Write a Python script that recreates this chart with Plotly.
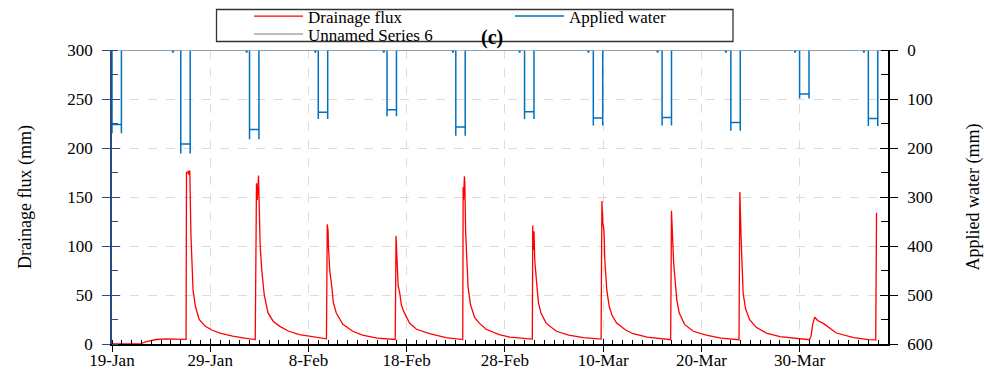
import plotly.graph_objects as go
import pandas as pd

# ---------------- data ----------------
flux_time = [
    "2019-01-19 00:00", "2019-01-21 20:00", "2019-01-22 12:00", "2019-01-23 12:00", "2019-01-24 12:00", "2019-01-26 13:00",
    "2019-01-26 14:00", "2019-01-26 18:00", "2019-01-26 19:00", "2019-01-26 22:00", "2019-01-27 01:00", "2019-01-27 03:00",
    "2019-01-27 06:00", "2019-01-27 12:00", "2019-01-27 21:00", "2019-01-28 12:00", "2019-01-29 05:00", "2019-01-30 00:00",
    "2019-01-31 07:00", "2019-02-01 12:00", "2019-02-02 14:00",
    "2019-02-02 17:00", "2019-02-02 19:00", "2019-02-02 22:00", "2019-02-03 00:00", "2019-02-03 02:00", "2019-02-03 06:00",
    "2019-02-03 12:00", "2019-02-03 21:00", "2019-02-04 10:00", "2019-02-05 02:00", "2019-02-06 00:00", "2019-02-07 02:00",
    "2019-02-08 12:00", "2019-02-09 20:00",
    "2019-02-09 22:00", "2019-02-10 00:00", "2019-02-10 01:00", "2019-02-10 04:00", "2019-02-10 08:00", "2019-02-10 13:00",
    "2019-02-10 20:00", "2019-02-11 12:00", "2019-02-12 12:00", "2019-02-13 12:00", "2019-02-15 00:00", "2019-02-16 20:00",
    "2019-02-16 22:00", "2019-02-17 00:00", "2019-02-17 03:00", "2019-02-17 07:00", "2019-02-17 11:00", "2019-02-17 17:00",
    "2019-02-18 07:00", "2019-02-19 00:00", "2019-02-20 08:00", "2019-02-22 00:00", "2019-02-23 17:00",
    "2019-02-23 18:00", "2019-02-23 19:00", "2019-02-23 21:00", "2019-02-23 22:00", "2019-02-24 00:00", "2019-02-24 03:00",
    "2019-02-24 06:00", "2019-02-24 12:00", "2019-02-24 22:00", "2019-02-25 10:00", "2019-02-26 02:00", "2019-02-27 10:00",
    "2019-02-28 12:00", "2019-03-02 19:00",
    "2019-03-02 20:00", "2019-03-02 21:00", "2019-03-02 23:00", "2019-03-03 01:00", "2019-03-03 05:00", "2019-03-03 10:00",
    "2019-03-03 16:00", "2019-03-04 05:00", "2019-03-05 06:00", "2019-03-06 12:00", "2019-03-08 00:00", "2019-03-09 19:00",
    "2019-03-09 21:00", "2019-03-09 23:00", "2019-03-10 02:00", "2019-03-10 04:00", "2019-03-10 09:00", "2019-03-10 12:00",
    "2019-03-10 15:00", "2019-03-10 22:00", "2019-03-11 09:00", "2019-03-12 06:00", "2019-03-13 01:00", "2019-03-14 12:00",
    "2019-03-16 21:00",
    "2019-03-16 23:00", "2019-03-17 01:00", "2019-03-17 04:00", "2019-03-17 07:00", "2019-03-17 12:00", "2019-03-17 18:00",
    "2019-03-18 07:00", "2019-03-19 04:00", "2019-03-20 12:00", "2019-03-22 00:00", "2019-03-23 20:00",
    "2019-03-23 22:00", "2019-03-23 23:00", "2019-03-24 01:00", "2019-03-24 03:00", "2019-03-24 06:00", "2019-03-24 12:00",
    "2019-03-24 22:00", "2019-03-25 14:00", "2019-03-26 15:00", "2019-03-28 00:00", "2019-03-31 00:00",
    "2019-03-31 04:00", "2019-03-31 08:00", "2019-03-31 13:00", "2019-03-31 20:00", "2019-04-01 10:00", "2019-04-02 18:00",
    "2019-04-04 12:00", "2019-04-06 00:00", "2019-04-06 18:00", "2019-04-06 20:00",
]
flux_value = [
    0, 0, 2.5, 4.6, 5.2, 4.8,
    175, 176, 173, 177, 110, 78,
    55, 38, 25, 18, 14, 11,
    8, 6, 4.5,
    164, 147, 172, 134, 100, 75,
    50, 32, 23, 18, 13, 9.5,
    7, 5.3,
    122, 115, 98, 75, 62, 42,
    31.6, 20, 13, 9, 6, 4.6,
    110.5, 80, 60, 52, 40, 33,
    21.4, 15, 10.5, 6.5, 4.5,
    160, 147, 171, 165, 115, 80,
    58, 40, 27, 21, 15, 9.5,
    7, 5,
    121, 96, 115, 85, 65, 42,
    31.6, 21, 13, 9, 6.5, 5,
    146, 125, 116, 86, 55, 45,
    38, 29, 21.4, 14.5, 10.5, 7,
    4.4,
    136, 110, 85, 69, 45, 31.6,
    20, 13, 9, 6, 4.4,
    155, 128, 110, 86, 52, 36,
    24.8, 17, 11.2, 7.5, 4.4,
    8, 20, 27.5, 24, 21, 11.2,
    6.5, 4.4, 4.2, 134,
]

irr_start = ["2019-01-19 00:00", "2019-01-26 00:00", "2019-02-02 00:00", "2019-02-09 00:00",
             "2019-02-16 00:00", "2019-02-23 00:00", "2019-03-02 00:00", "2019-03-09 00:00",
             "2019-03-16 00:00", "2019-03-23 00:00", "2019-03-30 00:00", "2019-04-06 00:00"]
irr_end = ["2019-01-19 23:00", "2019-01-26 23:00", "2019-02-02 23:00", "2019-02-09 23:00",
           "2019-02-16 23:00", "2019-02-23 23:00", "2019-03-02 23:00", "2019-03-09 23:00",
           "2019-03-16 23:00", "2019-03-23 23:00", "2019-03-30 23:00", "2019-04-06 23:00"]
irr_depth = [152, 192, 162, 127, 122, 157, 126, 139, 138, 148, 90, 140]
irr_peak = [170, 211, 182, 141, 135, 175, 141, 154, 154, 165, 99, 155]
# small dips just before events
dip_time = [None, "2019-01-25 05:00", "2019-02-01 17:00", "2019-02-08 17:00", "2019-02-15 16:00",
            "2019-02-22 17:00", "2019-03-01 12:00", "2019-03-08 12:00", "2019-03-15 13:00",
            "2019-03-22 12:00", "2019-03-29 13:00", "2019-04-05 13:00"]
dip_depth = [0, 5, 5, 5, 5, 5, 5, 5, 5, 5, 5, 5]

x_range = ["2019-01-19 00:00", "2019-04-08 00:00"]
series6_time = ["2019-01-19 00:00", "2019-04-08 00:00"]
series6_value = [0, 0]

left_ticks = [0, 50, 100, 150, 200, 250, 300]
right_ticks = [0, 100, 200, 300, 400, 500, 600]

# -------- build applied-water step line --------
irr_x, irr_y = [], []
for i in range(len(irr_start)):
    if dip_time[i] is not None:
        t = pd.Timestamp(dip_time[i])
        irr_x += [str(t - pd.Timedelta(hours=2)), str(t), str(t + pd.Timedelta(hours=2))]
        irr_y += [0, dip_depth[i], 0]
    irr_x += [irr_start[i], irr_start[i], irr_start[i], irr_end[i], irr_end[i], irr_end[i]]
    irr_y += [0, irr_peak[i], irr_depth[i], irr_depth[i], irr_peak[i], 0]
irr_x.append(x_range[1])
irr_y.append(0)

# -------- layout geometry --------
W, H = 984, 373
ML, MR, MT, MB = 112, 96, 50, 29
PW, PH = W - ML - MR, H - MT - MB


def px(xp):
    return (xp - ML) / PW


def py(yp):
    return (MT + PH - yp) / PH


FONT = "Liberation Serif"
NAVY = "#2b4a86"
TF = 17
LF = 17

fig = go.Figure()
fig.add_trace(go.Scatter(x=flux_time, y=flux_value, name="Drainage flux", mode="lines",
                         line=dict(color="#ff0000", width=1.3), legend="legend"))
fig.add_trace(go.Scatter(x=irr_x, y=irr_y, name="Applied water", mode="lines", yaxis="y2",
                         line=dict(color="#0070c0", width=1.5), legend="legend2"))
fig.add_trace(go.Scatter(x=series6_time, y=series6_value, name="Unnamed Series 6", mode="lines",
                         yaxis="y2", line=dict(color="#a6a6a6", width=1.5), legend="legend3"))
# helper traces so overlay tick axes are drawn
fig.add_trace(go.Scatter(x=[None], y=[None], xaxis="x2", yaxis="y", showlegend=False, hoverinfo="skip"))
fig.add_trace(go.Scatter(x=[None], y=[None], xaxis="x", yaxis="y3", showlegend=False, hoverinfo="skip"))
fig.add_trace(go.Scatter(x=[None], y=[None], xaxis="x", yaxis="y4", showlegend=False, hoverinfo="skip"))

DAY = 86400000
tickfont = dict(family=FONT, size=TF, color="black")

fig.update_layout(
    width=W, height=H,
    margin=dict(l=ML, r=MR, t=MT, b=MB, autoexpand=False),
    paper_bgcolor="white", plot_bgcolor="white",
    font=dict(family=FONT, size=TF, color="black"),
    showlegend=True,
    xaxis=dict(type="date", range=x_range, tickmode="linear", tick0="2019-01-19", dtick=10 * DAY,
               tickformat="%-d-%b", ticks="outside", ticklen=6, tickwidth=1.2, tickcolor="black",
               showline=True, linecolor="black", linewidth=1.5, zeroline=False,
               showgrid=True, gridcolor="#dcdcdc", griddash="dash", gridwidth=1,
               minor=dict(tick0="2019-01-19", dtick=DAY, ticks="inside", ticklen=4, tickcolor="black",
                          tickwidth=1, showgrid=False),
               tickfont=tickfont, ticklabelstandoff=-6, automargin=False),
    xaxis2=dict(type="date", range=x_range, overlaying="x", anchor="y", side="bottom",
                tickmode="linear", tick0="2019-01-19", dtick=10 * DAY, ticks="inside", ticklen=5,
                tickwidth=1.2, tickcolor="black", showticklabels=False, showgrid=False,
                showline=False, zeroline=False),
    yaxis=dict(range=[0, 300], tickmode="array", tickvals=left_ticks, ticks="outside", ticklen=8,
               tickwidth=1.2, tickcolor=NAVY, showline=True, linecolor=NAVY, linewidth=1.5,
               zeroline=False, showgrid=True, gridcolor="#dcdcdc", griddash="dash",
               minor=dict(dtick=25, tick0=0, ticks="inside", ticklen=6, tickcolor=NAVY, tickwidth=1,
                          showgrid=False),
               tickfont=tickfont, ticklabelstandoff=6, automargin=False,
               title=dict(text="Drainage flux (mm)", font=dict(family=FONT, size=18), standoff=31)),
    yaxis3=dict(range=[0, 300], overlaying="y", side="left", tickmode="array", tickvals=left_ticks,
                ticks="inside", ticklen=8, tickwidth=1.2, tickcolor=NAVY, showticklabels=False,
                showgrid=False, showline=False, zeroline=False),
    yaxis2=dict(range=[600, 0], overlaying="y", side="right", tickmode="array", tickvals=right_ticks,
                ticks="outside", ticklen=8, tickwidth=1.2, tickcolor="black", showline=True,
                linecolor="black", linewidth=1.5, zeroline=False, showgrid=False,
                minor=dict(dtick=50, tick0=0, ticks="inside", ticklen=7, tickcolor="black", tickwidth=1,
                           showgrid=False),
                tickfont=tickfont, ticklabelstandoff=6, automargin=False,
                title=dict(text="Applied water (mm)", font=dict(family=FONT, size=18), standoff=35)),
    yaxis4=dict(range=[600, 0], overlaying="y", side="right", tickmode="array", tickvals=right_ticks,
                ticks="inside", ticklen=8, tickwidth=1.2, tickcolor="black", showticklabels=False,
                showgrid=False, showline=False, zeroline=False),
    legend=dict(x=px(249), y=py(16.5), xanchor="left", yanchor="middle", orientation="v",
                bgcolor="rgba(0,0,0,0)", borderwidth=0, itemwidth=49,
                font=dict(family=FONT, size=LF, color="black")),
    legend2=dict(x=px(510), y=py(16.5), xanchor="left", yanchor="middle", orientation="v",
                 bgcolor="rgba(0,0,0,0)", borderwidth=0, itemwidth=49,
                 font=dict(family=FONT, size=LF, color="black")),
    legend3=dict(x=px(249), y=py(34.5), xanchor="left", yanchor="middle", orientation="v",
                 bgcolor="rgba(0,0,0,0)", borderwidth=0, itemwidth=49,
                 font=dict(family=FONT, size=LF, color="black")),
    shapes=[dict(type="rect", xref="paper", yref="paper", x0=px(216.5), x1=px(733), y0=py(41.5), y1=py(9.5),
                 line=dict(color="#333333", width=1.3), fillcolor="white", layer="below")],
    annotations=[dict(text="<b>(c)</b>", xref="paper", yref="paper", x=px(492), y=py(37),
                      xanchor="center", yanchor="middle", showarrow=False,
                      font=dict(family=FONT, size=20, color="black"))],
)

fig.write_html("out.html")
